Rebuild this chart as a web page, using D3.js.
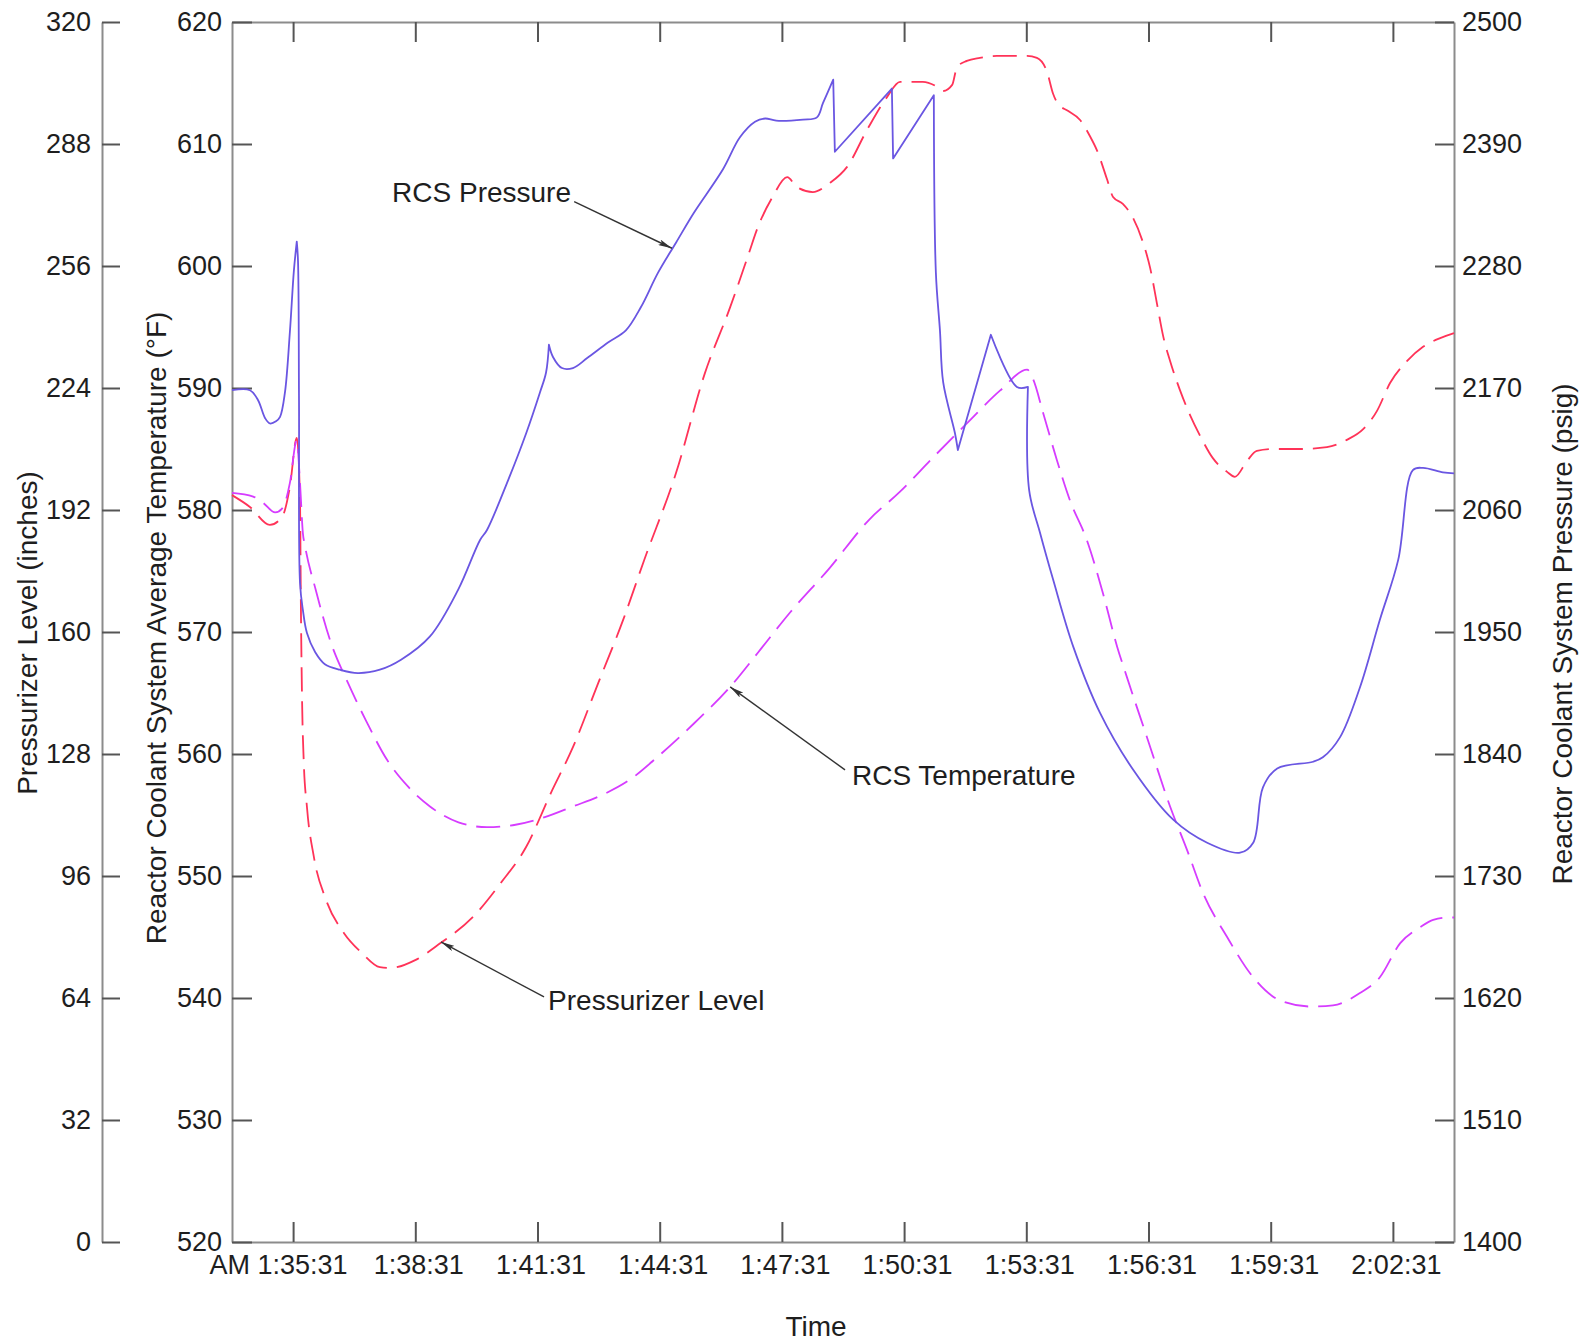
<!DOCTYPE html>
<html>
<head>
<meta charset="utf-8">
<script src="https://cdn.jsdelivr.net/npm/d3@7/dist/d3.min.js"></script>
<style>
  body { margin: 0; background: #fff; }
  text { font-family: "Liberation Sans", Arial, sans-serif; }
</style>
</head>
<body>
<div id="chart"></div>
<script>

// clock range of the trace, minutes are counted from startClock
const startClock = "1:34:01"
const endClock = "2:04:01"
const timeTicks = ["1:35:31", "1:38:31", "1:41:31", "1:44:31", "1:47:31", "1:50:31", "1:53:31", "1:56:31", "1:59:31", "2:02:31"]

const levelTicks = [0, 32, 64, 96, 128, 160, 192, 224, 256, 288, 320]
const tempTicks = [520, 530, 540, 550, 560, 570, 580, 590, 600, 610, 620]
const pressureTicks = [1400, 1510, 1620, 1730, 1840, 1950, 2060, 2170, 2280, 2390, 2500]

// [minutes after start, psig]
const rcsPressure = [[0, 2168], [0.44, 2168], [0.64, 2159], [0.81, 2143], [0.93, 2138], [1.08, 2140], [1.18, 2144],
    [1.30, 2166], [1.42, 2220], [1.52, 2276], [1.59, 2302], [1.62, 2285], [1.645, 2159], [1.67, 1994], [1.74, 1970],
    [1.84, 1949], [2.04, 1932], [2.28, 1921], [2.65, 1916], [3.09, 1913], [3.63, 1916], [4.15, 1925], [4.86, 1946],
    [5.55, 1988], [6.09, 2033], [6.26, 2042], [6.78, 2087], [7.22, 2129], [7.56, 2166], [7.71, 2184], [7.78, 2209],
    [7.88, 2198], [8.10, 2188], [8.37, 2188], [8.72, 2197], [9.23, 2211], [9.67, 2222], [10.04, 2243], [10.46, 2274],
    [10.90, 2301], [11.34, 2328], [12.05, 2367], [12.47, 2396], [12.84, 2410], [13.09, 2413], [13.36, 2411],
    [14.02, 2412], [14.36, 2414], [14.51, 2427], [14.76, 2448], [14.80, 2383], [16.20, 2440], [16.23, 2377],
    [17.23, 2434], [17.28, 2274], [17.38, 2222], [17.46, 2175], [17.75, 2129], [17.82, 2114], [18.63, 2218],
    [19.27, 2171], [19.54, 2171], [19.57, 2078], [19.84, 2039], [20.16, 1997], [20.65, 1937], [21.31, 1877],
    [22.12, 1826], [23.10, 1781], [23.94, 1760], [24.75, 1751], [25.07, 1760], [25.31, 1810], [25.66, 1827],
    [26.54, 1833], [26.78, 1837], [27.20, 1855], [27.69, 1900], [28.18, 1961], [28.63, 2015], [28.99, 2096],
    [29.24, 2098], [29.73, 2094], [30, 2093]]

// [minutes after start, inches]
const pzrLevel = [[0, 195.9], [0.44, 192.8], [0.93, 188.1], [1.23, 190.2], [1.42, 198], [1.59, 210.9], [1.67, 194.6],
    [1.69, 168.4], [1.72, 142.2], [1.76, 126.4], [1.84, 114.1], [2.01, 101], [2.31, 89.7], [2.75, 81], [3.19, 75.8],
    [3.63, 72.1], [3.89, 71.9], [4.51, 74], [5.12, 78.4], [5.91, 85.2], [6.60, 94.2], [7.22, 103.6], [7.83, 117.8],
    [8.37, 129.8], [8.99, 146.6], [9.60, 163.1], [10.12, 178.9], [10.90, 201.7], [11.61, 227.9], [12.23, 245.2],
    [12.66, 258.4], [12.91, 266.2], [13.27, 274.1], [13.63, 279.3], [13.87, 276.7], [14.26, 275.4], [14.68, 277.8],
    [15.10, 282], [15.59, 291.7], [16.08, 300.3], [16.40, 304.3], [16.96, 304.3], [17.31, 303], [17.46, 301.9],
    [17.68, 303.5], [17.80, 308.2], [18.04, 309.8], [18.36, 310.6], [18.78, 311.1], [19.52, 311.1], [19.76, 310.6],
    [20.01, 306.9], [20.16, 301.1], [20.28, 298.5], [20.52, 296.7], [20.82, 294.3], [21.06, 290.1], [21.24, 286.2],
    [21.48, 278.8], [21.63, 274.1], [21.87, 272.3], [22.12, 268.6], [22.37, 262], [22.54, 255.5], [22.71, 246],
    [22.86, 237.6], [23.03, 231.1], [23.27, 223.5], [23.52, 216.9], [23.77, 211.4], [24.08, 205.6], [24.43, 202],
    [24.62, 200.7], [24.92, 204.9], [25.16, 207.5], [25.56, 208], [26.22, 208], [26.88, 208.5], [27.37, 210.4],
    [27.77, 213.2], [28.11, 218], [28.43, 225.3], [28.85, 231.1], [29.24, 234.8], [29.66, 237.1], [30, 238.4]]

// [minutes after start, deg F]
const rcsTemp = [[0, 581.4], [0.52, 581.1], [0.76, 580.6], [1.06, 579.8], [1.25, 580.2], [1.42, 582.2], [1.59, 585.7],
    [1.67, 582.2], [1.74, 578.1], [1.79, 577.1], [2.06, 573.4], [2.41, 569.3], [2.85, 565.8], [3.28, 562.8],
    [3.81, 559.5], [4.33, 557.3], [4.86, 555.7], [5.56, 554.4], [6.26, 554], [6.96, 554.2], [7.66, 554.8],
    [8.37, 555.7], [9.06, 556.6], [9.77, 557.9], [10.46, 559.8], [11.34, 562.5], [12.23, 565.5], [12.91, 568.3],
    [13.70, 571.6], [14.66, 575.2], [15.64, 579.2], [16.40, 581.5], [17.21, 584.3], [18.04, 587.1], [18.86, 589.8],
    [19.52, 591.5], [19.67, 590.7], [19.91, 588], [20.25, 584.1], [20.57, 580.8], [20.99, 577.5], [21.38, 573.2],
    [21.73, 568.8], [21.97, 566.3], [22.46, 561.4], [23.03, 555.7], [23.45, 552.1], [23.84, 548.6], [24.43, 545],
    [25.07, 541.7], [25.73, 539.8], [26.47, 539.3], [27.03, 539.4], [27.69, 540.4], [28.18, 541.7], [28.68, 544.5],
    [29.17, 545.8], [29.49, 546.4], [29.90, 546.6], [30, 546.6]]

// callouts: text anchor, leader start, arrow tip (minutes, value on the series' own axis)
const callouts = [
    { label: "RCS Pressure", axis: "pressure", text: [3.93, 2338], from: [8.40, 2338], to: [10.80, 2296] },
    { label: "RCS Temperature", axis: "temp", text: [15.22, 557.5], from: [15.05, 558.7], to: [12.23, 565.5] },
    { label: "Pressurizer Level", axis: "level", text: [7.76, 60.8], from: [7.66, 64.3], to: [5.13, 78.7] }
]

const width = 1585
const height = 1342
const plot = { left: 232, right: 1454, top: 22, bottom: 1242 }
const levelAxisX = 102

function clockMinutes(s) {
    const p = s.split(':').map(Number)
    return p[0] * 60 + p[1] + p[2] / 60
}

const t0 = clockMinutes(startClock)
const tickMinutes = timeTicks.map(d => clockMinutes(d) - t0)

const svg = d3.select('#chart')
    .append('svg')
    .attr('width', width)
    .attr('height', height)

const x = d3.scaleLinear()
    .domain([0, clockMinutes(endClock) - t0])
    .range([plot.left, plot.right])

const yTemp = d3.scaleLinear().domain([520, 620]).range([plot.bottom, plot.top])
const yLevel = d3.scaleLinear().domain([0, 320]).range([plot.bottom, plot.top])
const yPress = d3.scaleLinear().domain([1400, 2500]).range([plot.bottom, plot.top])
const yFor = { pressure: yPress, temp: yTemp, level: yLevel }

function styleAxis(g) {
    g.attr('font-size', 27)
        .attr('font-family', '"Liberation Sans", Arial, sans-serif')
        .attr('color', '#1e1e1e')
    g.select('.domain').attr('stroke', '#8c8c8c').attr('stroke-width', 2)
    g.selectAll('.tick line').attr('stroke', '#555').attr('stroke-width', 2)
}

// bottom time axis
const xAxis = svg.append('g')
    .attr('transform', `translate(0,${plot.bottom})`)
    .call(d3.axisBottom(x)
        .tickValues(tickMinutes)
        .tickFormat((d, i) => i == 0 ? 'AM ' + timeTicks[i] : timeTicks[i])
        .tickSizeInner(-20)
        .tickSizeOuter(0)
        .tickPadding(13))
    .call(styleAxis)

xAxis.selectAll('.tick text')
    .filter((d, i) => i == 0)
    .attr('text-anchor', 'end')
    .attr('x', 54)

xAxis.selectAll('.tick text')
    .filter((d, i) => i > 0)
    .attr('x', 3)

svg.append('g')
    .attr('transform', `translate(0,${plot.top})`)
    .call(d3.axisTop(x).tickValues(tickMinutes).tickFormat('').tickSizeInner(-20).tickSizeOuter(0))
    .call(styleAxis)

svg.append('g')
    .attr('transform', `translate(${plot.left},0)`)
    .call(d3.axisLeft(yTemp).tickValues(tempTicks).tickSizeInner(-20).tickSizeOuter(0).tickPadding(10))
    .call(styleAxis)

svg.append('g')
    .attr('transform', `translate(${plot.right},0)`)
    .call(d3.axisRight(yPress).tickValues(pressureTicks).tickFormat(d3.format('d'))
        .tickSizeInner(-19).tickSizeOuter(0).tickPadding(8))
    .call(styleAxis)

svg.append('g')
    .attr('transform', `translate(${levelAxisX},0)`)
    .call(d3.axisLeft(yLevel).tickValues(levelTicks).tickSizeInner(-18).tickSizeOuter(0).tickPadding(11))
    .call(styleAxis)

// axis titles
const titles = svg.append('g')
    .attr('font-size', 28)
    .attr('fill', '#1e1e1e')
    .attr('text-anchor', 'middle')

titles.append('text')
    .attr('x', 816)
    .attr('y', 1336)
    .text('Time')

titles.append('text')
    .attr('transform', 'translate(37,633) rotate(-90)')
    .text('Pressurizer Level (inches)')

titles.append('text')
    .attr('transform', 'translate(166,628) rotate(-90)')
    .text('Reactor Coolant System Average Temperature (°F)')

titles.append('text')
    .attr('transform', 'translate(1572,634) rotate(-90)')
    .text('Reactor Coolant System Pressure (psig)')

// series
const lineFor = (y, curve) => d3.line()
    .x(d => x(d[0]))
    .y(d => y(d[1]))
    .curve(curve)

// repeat a vertex where the trace turns hard, so the spline keeps a sharp corner there
function keepCorners(pts, y) {
    const out = []
    pts.forEach((p, i) => {
        out.push(p)
        if (i == 0 || i == pts.length - 1) return
        const a = pts[i - 1], b = pts[i + 1]
        const ux = x(p[0]) - x(a[0]), uy = y(p[1]) - y(a[1])
        const vx = x(b[0]) - x(p[0]), vy = y(b[1]) - y(p[1])
        const turn = Math.abs(Math.atan2(ux * vy - uy * vx, ux * vx + uy * vy))
        if (turn > 1.2) out.push(p)
    })
    return out
}

svg.append('path')
    .datum(pzrLevel)
    .attr('d', lineFor(yLevel, d3.curveMonotoneX))
    .attr('fill', 'none')
    .attr('stroke', '#ff3358')
    .attr('stroke-width', 1.8)
    .attr('stroke-dasharray', '24,10')

svg.append('path')
    .datum(rcsTemp)
    .attr('d', lineFor(yTemp, d3.curveMonotoneX))
    .attr('fill', 'none')
    .attr('stroke', '#d63cff')
    .attr('stroke-width', 1.8)
    .attr('stroke-dasharray', '24,10')

svg.append('path')
    .datum(keepCorners(rcsPressure, yPress))
    .attr('d', lineFor(yPress, d3.curveCatmullRom.alpha(0.5)))
    .attr('fill', 'none')
    .attr('stroke', '#6a56e2')
    .attr('stroke-width', 1.8)
    .attr('stroke-linejoin', 'round')

// callouts
svg.append('defs')
    .append('marker')
    .attr('id', 'arrow')
    .attr('viewBox', '0 0 14 6')
    .attr('refX', 14)
    .attr('refY', 3)
    .attr('markerWidth', 14)
    .attr('markerHeight', 6)
    .attr('markerUnits', 'userSpaceOnUse')
    .attr('orient', 'auto')
    .append('path')
    .attr('d', 'M0,0 L14,3 L0,6 L3,3 Z')
    .attr('fill', '#333')

const notes = svg.append('g')

notes.selectAll('line')
    .data(callouts)
    .join('line')
    .attr('x1', d => x(d.from[0]))
    .attr('y1', d => yFor[d.axis](d.from[1]))
    .attr('x2', d => x(d.to[0]))
    .attr('y2', d => yFor[d.axis](d.to[1]))
    .attr('stroke', '#333')
    .attr('stroke-width', 1.4)
    .attr('marker-end', 'url(#arrow)')

notes.selectAll('text')
    .data(callouts)
    .join('text')
    .attr('x', d => x(d.text[0]))
    .attr('y', d => yFor[d.axis](d.text[1]))
    .attr('font-size', 28)
    .attr('fill', '#1e1e1e')
    .text(d => d.label)

</script>
</body>
</html>
